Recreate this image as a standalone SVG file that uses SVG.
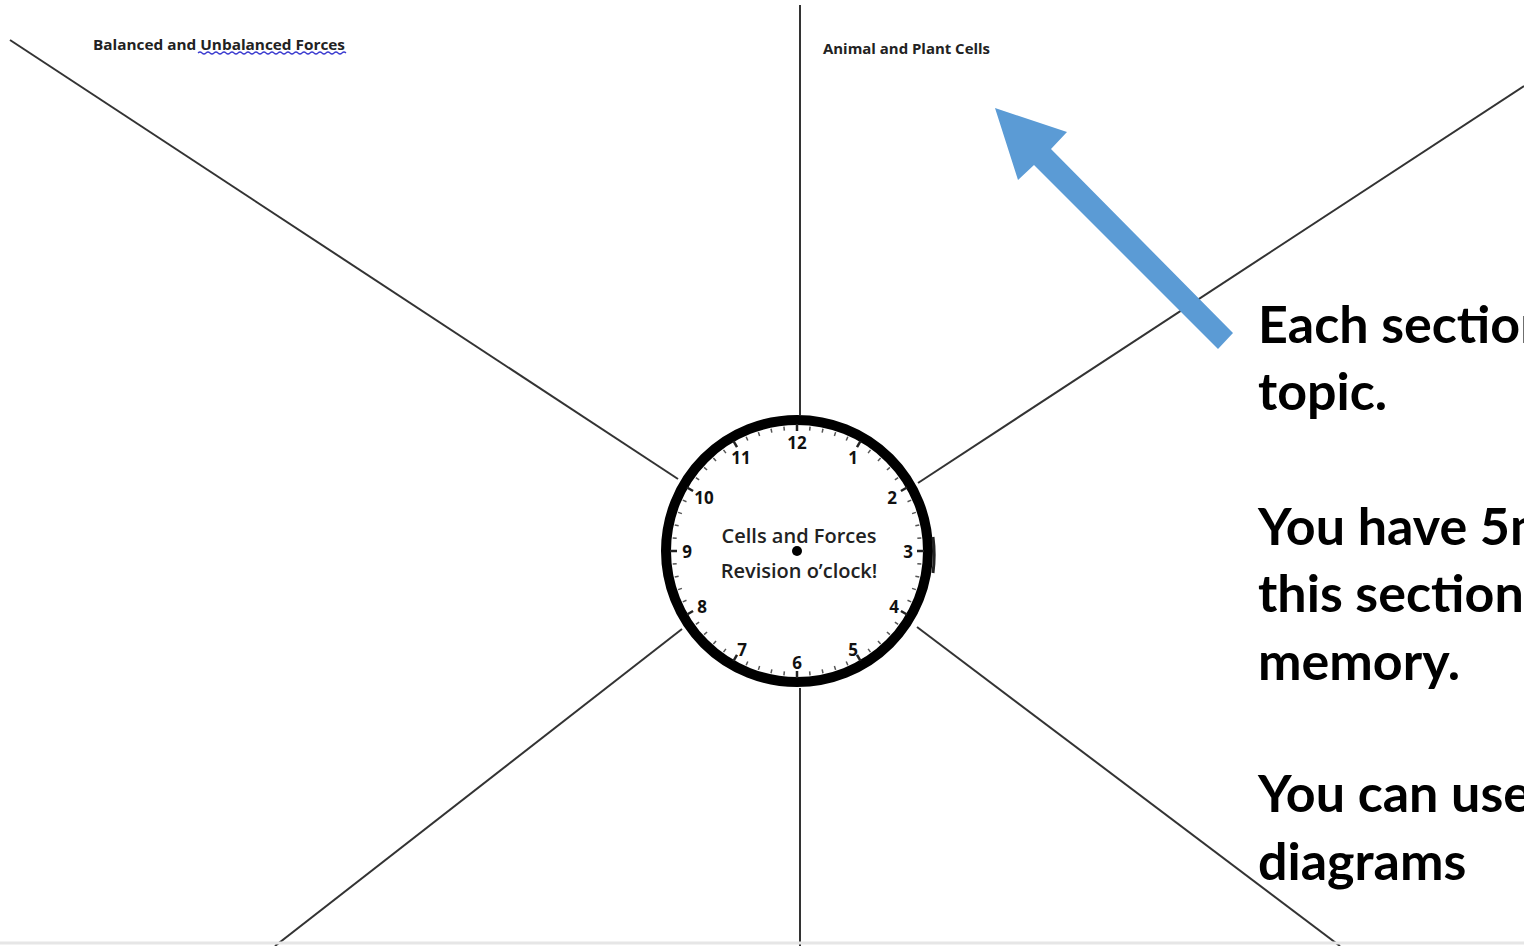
<svg xmlns="http://www.w3.org/2000/svg" width="1524" height="946" viewBox="0 0 1524 946">
<style>
.ln{stroke:#333;stroke-width:2;fill:none}
.hd{font-family:"Open Sans","Noto Sans",sans-serif;font-weight:bold;font-size:15px;fill:#222}
.num{font-family:"Open Sans","Noto Sans",sans-serif;font-weight:bold;font-size:17px;fill:#111;text-anchor:middle}
.ct{font-family:"Open Sans","Noto Sans",sans-serif;font-weight:600;font-size:20px;fill:#222;text-anchor:middle}
.big{font-family:Lato,"Open Sans",sans-serif;font-weight:bold;font-size:52px;fill:#000}
</style>
<defs>
<g id="mt"><line x1="0" y1="-121" x2="0" y2="-125" stroke="#555" stroke-width="1.5"/></g>
<g id="ht"><line x1="0" y1="-120" x2="0" y2="-127" stroke="#222" stroke-width="2.5"/></g>
</defs>
<rect width="1524" height="946" fill="#fff"/>
<g id="connectors">
<line class="ln" x1="800" y1="5" x2="800" y2="415"/>
<line class="ln" x1="800" y1="688" x2="800" y2="946"/>
<line class="ln" x1="10" y1="40" x2="678" y2="479"/>
<line class="ln" x1="682" y1="629" x2="275" y2="946"/>
<line class="ln" x1="918" y1="483" x2="1524" y2="86"/>
<line class="ln" x1="917" y1="627" x2="1340" y2="946"/>
<line x1="0" y1="943" x2="1524" y2="943" stroke="#e6e6e6" stroke-width="3"/>
</g>
<g id="header-left">
<text class="hd" x="93" y="50" textLength="252" lengthAdjust="spacingAndGlyphs">Balanced and Unbalanced Forces</text>
<path d="M198 53 q2 -2 4 0 t4 0 t4 0 t4 0 t4 0 t4 0 t4 0 t4 0 t4 0 t4 0 t4 0 t4 0 t4 0 t4 0 t4 0 t4 0 t4 0 t4 0 t4 0 t4 0 t4 0 t4 0 t4 0 t4 0 t4 0 t4 0 t4 0 t4 0 t4 0 t4 0 t4 0 t4 0 t4 0 t4 0 t4 0 t4 0 t4 0" fill="none" stroke="#3b3bd0" stroke-width="1.2"/>
</g>
<g id="header-right">
<text class="hd" x="823" y="54" textLength="167" lengthAdjust="spacingAndGlyphs">Animal and Plant Cells</text>
</g>
<g id="clock" transform="translate(797,551)">
<circle r="131" fill="#fff" stroke="#000" stroke-width="10"/>
<path d="M136 -14 A138 138 0 0 1 136 22" fill="none" stroke="#222" stroke-width="3"/>
<g id="ticks">
<use href="#ht" transform="rotate(0)"/><use href="#mt" transform="rotate(6)"/><use href="#mt" transform="rotate(12)"/><use href="#mt" transform="rotate(18)"/><use href="#mt" transform="rotate(24)"/>
<use href="#ht" transform="rotate(30)"/><use href="#mt" transform="rotate(36)"/><use href="#mt" transform="rotate(42)"/><use href="#mt" transform="rotate(48)"/><use href="#mt" transform="rotate(54)"/>
<use href="#ht" transform="rotate(60)"/><use href="#mt" transform="rotate(66)"/><use href="#mt" transform="rotate(72)"/><use href="#mt" transform="rotate(78)"/><use href="#mt" transform="rotate(84)"/>
<use href="#ht" transform="rotate(90)"/><use href="#mt" transform="rotate(96)"/><use href="#mt" transform="rotate(102)"/><use href="#mt" transform="rotate(108)"/><use href="#mt" transform="rotate(114)"/>
<use href="#ht" transform="rotate(120)"/><use href="#mt" transform="rotate(126)"/><use href="#mt" transform="rotate(132)"/><use href="#mt" transform="rotate(138)"/><use href="#mt" transform="rotate(144)"/>
<use href="#ht" transform="rotate(150)"/><use href="#mt" transform="rotate(156)"/><use href="#mt" transform="rotate(162)"/><use href="#mt" transform="rotate(168)"/><use href="#mt" transform="rotate(174)"/>
<use href="#ht" transform="rotate(180)"/><use href="#mt" transform="rotate(186)"/><use href="#mt" transform="rotate(192)"/><use href="#mt" transform="rotate(198)"/><use href="#mt" transform="rotate(204)"/>
<use href="#ht" transform="rotate(210)"/><use href="#mt" transform="rotate(216)"/><use href="#mt" transform="rotate(222)"/><use href="#mt" transform="rotate(228)"/><use href="#mt" transform="rotate(234)"/>
<use href="#ht" transform="rotate(240)"/><use href="#mt" transform="rotate(246)"/><use href="#mt" transform="rotate(252)"/><use href="#mt" transform="rotate(258)"/><use href="#mt" transform="rotate(264)"/>
<use href="#ht" transform="rotate(270)"/><use href="#mt" transform="rotate(276)"/><use href="#mt" transform="rotate(282)"/><use href="#mt" transform="rotate(288)"/><use href="#mt" transform="rotate(294)"/>
<use href="#ht" transform="rotate(300)"/><use href="#mt" transform="rotate(306)"/><use href="#mt" transform="rotate(312)"/><use href="#mt" transform="rotate(318)"/><use href="#mt" transform="rotate(324)"/>
<use href="#ht" transform="rotate(330)"/><use href="#mt" transform="rotate(336)"/><use href="#mt" transform="rotate(342)"/><use href="#mt" transform="rotate(348)"/><use href="#mt" transform="rotate(354)"/>
</g>
<text class="num" x="0" y="-102">12</text>
<text class="num" x="56" y="-87">1</text>
<text class="num" x="95" y="-47">2</text>
<text class="num" x="111" y="7">3</text>
<text class="num" x="97" y="62">4</text>
<text class="num" x="56" y="105">5</text>
<text class="num" x="0" y="118">6</text>
<text class="num" x="-55" y="105">7</text>
<text class="num" x="-95" y="62">8</text>
<text class="num" x="-110" y="7">9</text>
<text class="num" x="-93" y="-47">10</text>
<text class="num" x="-56" y="-87">11</text>
<text class="ct" x="2" y="-8">Cells and Forces</text>
<text class="ct" x="2" y="27">Revision o’clock!</text>
<circle r="5" fill="#000"/>
</g>
<g id="arrow">
<polygon points="995,108 1067,132 1051,149 1233,333 1218,349 1034,165 1018,180" fill="#5b9bd5"/>
</g>
<g id="instructions">
<text class="big" x="1258" y="343">Each section</text>
<text class="big" x="1258" y="410">topic.</text>
<text class="big" x="1258" y="545">You have 5m</text>
<text class="big" x="1258" y="612">this section</text>
<text class="big" x="1258" y="680">memory.</text>
<text class="big" x="1258" y="812">You can use</text>
<text class="big" x="1258" y="880">diagrams</text>
</g>
</svg>
